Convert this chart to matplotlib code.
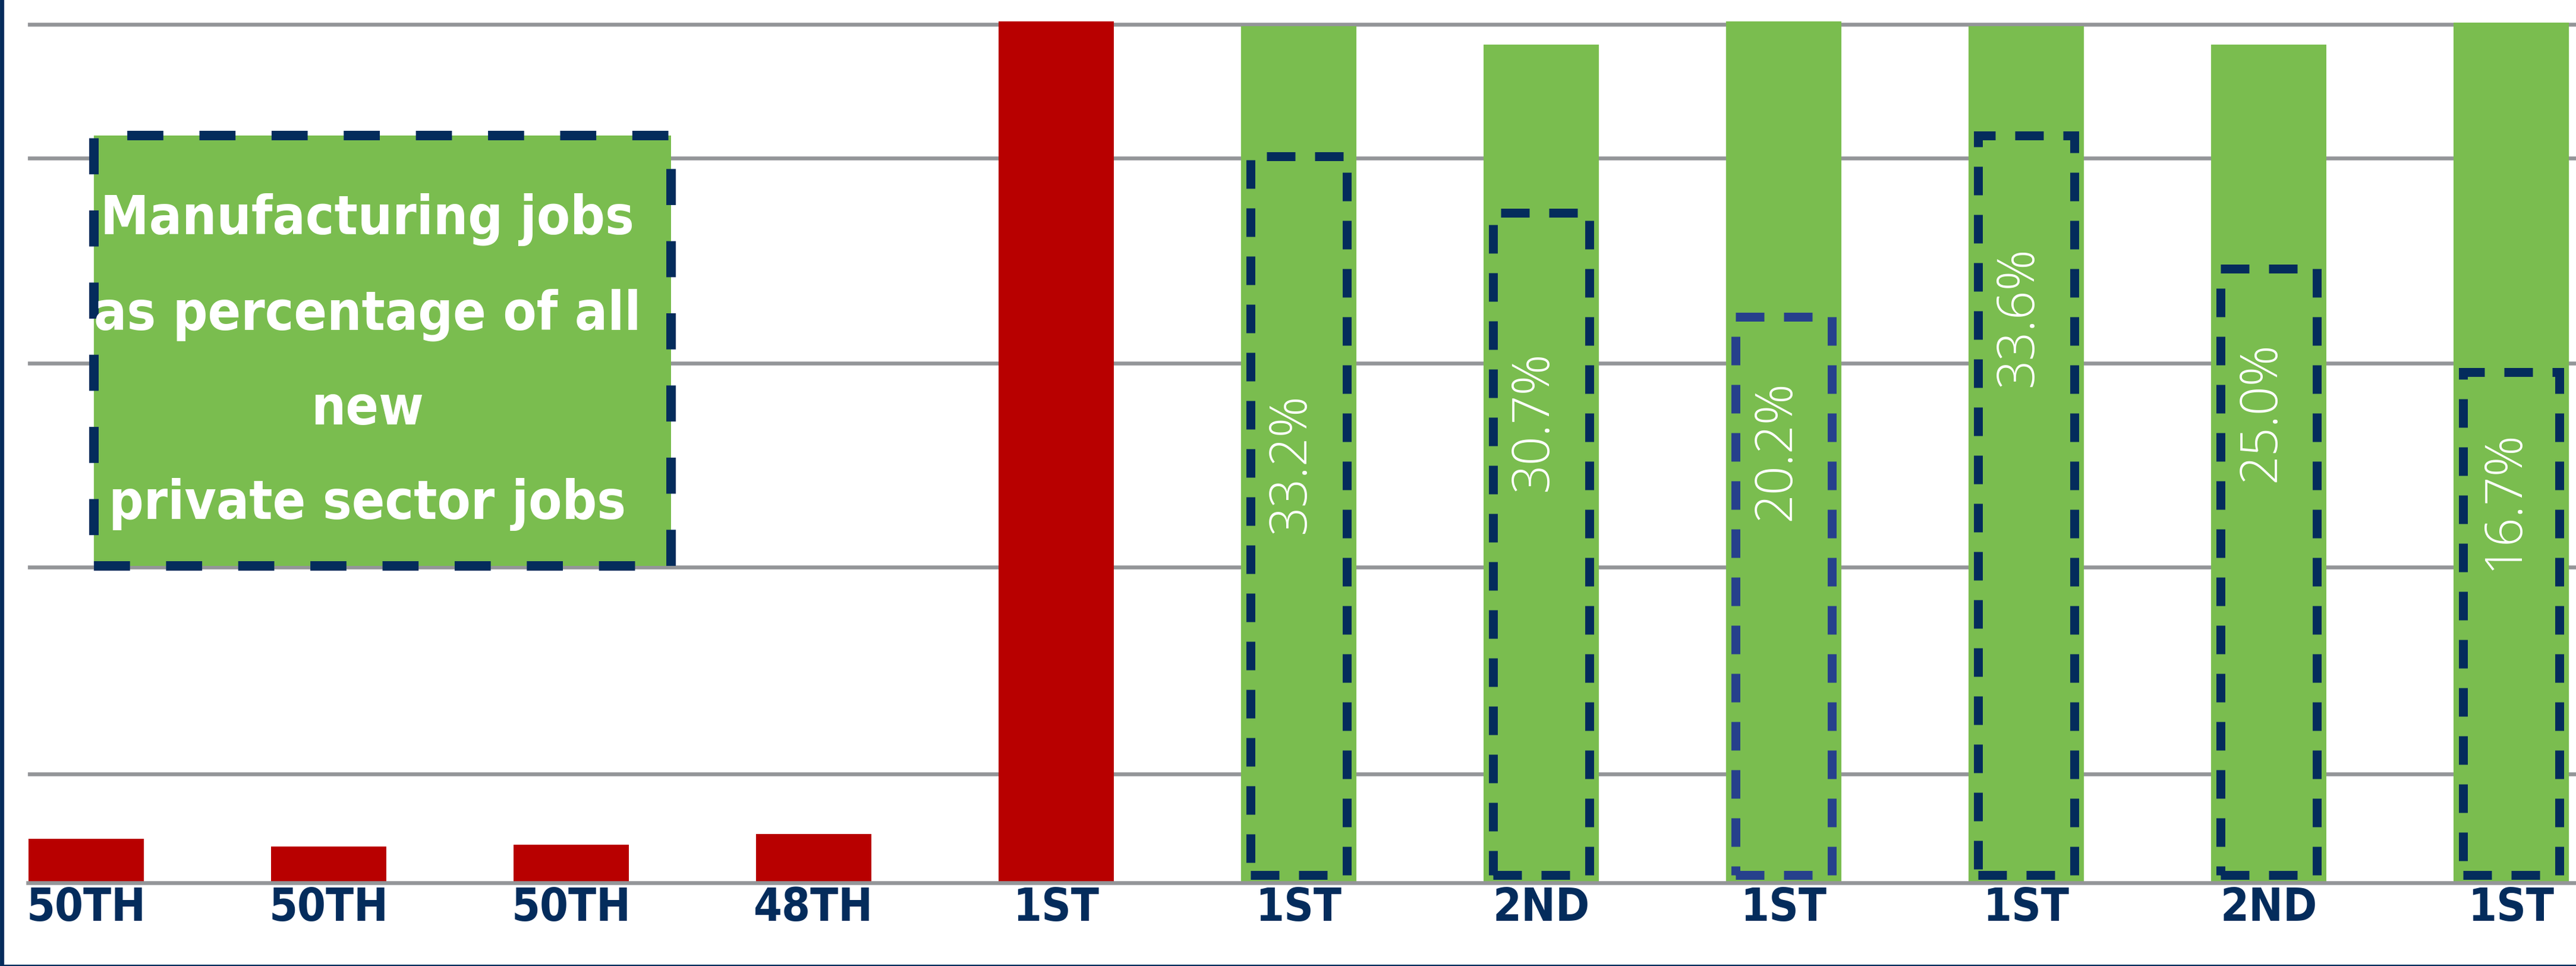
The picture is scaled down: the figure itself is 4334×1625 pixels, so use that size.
import numpy as np
import matplotlib
matplotlib.use("Agg")
import matplotlib.pyplot as plt
from matplotlib.patches import Rectangle
from matplotlib.lines import Line2D
from matplotlib import font_manager
from matplotlib.font_manager import FontProperties

# ---- data ----
ranks = ["50TH", "50TH", "50TH", "48TH", "1ST", "1ST", "2ND", "1ST", "1ST", "2ND", "1ST"]
bar_values = [5.1, 4.2, 4.4, 5.7, 100.3, 99.8, 97.6, 100.3, 99.8, 97.6, 100.2]
bar_groups = ["red", "red", "red", "red", "red",
              "green", "green", "green", "green", "green", "green"]

# manufacturing share boxes, one per green bar
share_labels = ["33.2%", "30.7%", "20.2%", "33.6%", "25.0%", "16.7%"]
share_box_top = [84.6, 78.0, 65.9, 87.0, 71.5, 59.5]
share_label_y = [48.8, 53.7, 50.3, 65.9, 54.8, 44.6]

grid_values = [12.7, 36.8, 60.5, 84.4, 100.0]

note_lines = ["Manufacturing jobs", "as percentage of all", "new", "private sector jobs"]

# ---- style ----
RED = "#B80000"
GREEN = "#7ABD4F"
NAVY = "#042C5C"
NAVY_LIGHT = "#26408C"
GRAY = "#939598"


def weight_of(f):
    w = f.weight
    if isinstance(w, str):
        w = font_manager.weight_dict.get(w, 400)
    return w


def find_font(names, wmin, wmax, stretches=None):
    for n in names:
        for f in font_manager.fontManager.ttflist:
            if f.name != n or f.style != "normal":
                continue
            if not (wmin <= weight_of(f) <= wmax):
                continue
            if stretches is not None and f.stretch not in stretches:
                continue
            return f.fname
    return None


cond = ("condensed", "semi-condensed", "extra-condensed", "ultra-condensed")
bold_file = (find_font(["Liberation Sans Narrow"], 600, 900)
             or find_font(["DejaVu Sans", "Noto Sans", "Roboto", "Open Sans", "Lato"], 600, 900, cond)
             or find_font(["Liberation Sans"], 600, 900))
normal_w = ("normal", "medium")
light_file = (find_font(["Open Sans", "Noto Sans", "Roboto", "Lato"], 300, 300, normal_w)
              or find_font(["Open Sans"], 400, 400, normal_w))
bold_prop = FontProperties(fname=bold_file) if bold_file else FontProperties(family="DejaVu Sans", weight="bold")
light_prop = FontProperties(fname=light_file) if light_file else FontProperties(family="DejaVu Sans")

W, H = 4334, 1625
fig = plt.figure(figsize=(W / 100, H / 100), dpi=100)
ax = fig.add_axes([47 / W, 140 / H, 1 - 47 / W, 1485 / H])

x = np.arange(len(ranks))
colors = [RED if g == "red" else GREEN for g in bar_groups]
ax.bar(x, bar_values, width=0.475, color=colors, zorder=3)

ax.set_xlim(-0.240, 10.267)
ax.set_ylim(0, 102.82)
ax.set_yticks(grid_values)
ax.yaxis.grid(True, color=GRAY, linewidth=4.7, zorder=0)
ax.set_axisbelow(True)
for s in ["top", "right", "left"]:
    ax.spines[s].set_visible(False)
ax.spines["bottom"].set_color(GRAY)
ax.spines["bottom"].set_linewidth(4.7)
ax.spines["bottom"].set_zorder(4)
ax.tick_params(axis="y", length=0, labelleft=False)
ax.tick_params(axis="x", length=0, pad=4)
ax.set_xticks(x, ranks)
for lbl in ax.get_xticklabels():
    lbl.set_fontproperties(bold_prop)
    lbl.set_fontsize(60)
    lbl.set_color(NAVY)

# dashed boxes + percentage labels on the green bars
green_idx = [i for i, g in enumerate(bar_groups) if g == "green"]
box_w = 0.395
pct_texts = []
for k, i in enumerate(green_idx):
    ec = NAVY_LIGHT if k == 2 else NAVY
    ax.add_patch(Rectangle((i - box_w / 2, 0.9), box_w, share_box_top[k] - 0.9,
                           fill=False, edgecolor=ec, linewidth=10.8,
                           linestyle=(0, (3.2, 2.2)), zorder=5))
    pct_texts.append(ax.text(i - 0.03, share_label_y[k], share_labels[k], rotation=90,
                             ha="center", va="center", color="white",
                             fontproperties=light_prop, fontsize=60, zorder=6))

# note box
fig.add_artist(Rectangle((158 / W, 1 - 952 / H), (1129 - 158) / W, (952 - 228) / H,
                         transform=fig.transFigure, facecolor=GREEN, edgecolor=NAVY,
                         linewidth=11.5, linestyle=(0, (3.8, 3.8)), zorder=2))
baselines = [394, 554, 714, 873]
note_texts = []
for line, yb in zip(note_lines, baselines):
    note_texts.append(fig.text(618 / W, 1 - yb / H, line, ha="center", va="baseline",
                               color="white", fontproperties=bold_prop, fontsize=80,
                               zorder=3))

# frame on the left and bottom edges
fig.add_artist(Line2D([0.0007, 0.0007], [0, 1], transform=fig.transFigure,
                      color=NAVY, linewidth=5))
fig.add_artist(Line2D([0, 1], [0.0009, 0.0009], transform=fig.transFigure,
                      color=NAVY, linewidth=2.5))

# fit font sizes to the widths measured on the reference
fig.canvas.draw()
r = fig.canvas.get_renderer()
tick0 = ax.get_xticklabels()[0]
s_tick = 60 * 201 / tick0.get_window_extent(r).width
for lbl in ax.get_xticklabels():
    lbl.set_fontsize(s_tick)
s_note = 80 * 899 / note_texts[0].get_window_extent(r).width
for t in note_texts:
    t.set_fontsize(s_note)
s_pct = 60 * 236 / pct_texts[0].get_window_extent(r).height
for t in pct_texts:
    t.set_fontsize(s_pct)

fig.savefig("out.png", dpi=100, facecolor="white")
